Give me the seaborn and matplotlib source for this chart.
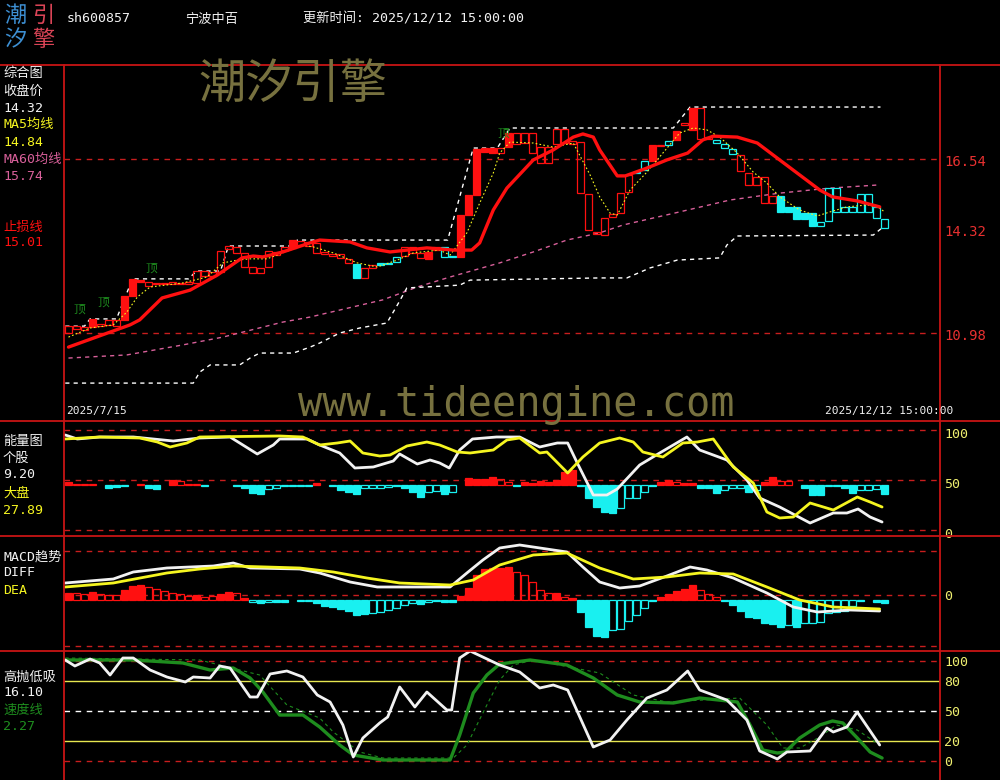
import numpy as np
import seaborn as sns
import matplotlib.pyplot as plt
import matplotlib.transforms as mtransforms
from matplotlib.lines import Line2D

# ---------------- main panel: candle bodies (price) ----------------
# kind: R = filled red, r = hollow red, C = filled cyan, c = hollow cyan
body_hi = [11.20, 11.20, 11.17, 11.43, 11.27, 11.40, 11.40, 12.16, 12.71, 12.67,
           12.61, 12.58, 12.58, 12.61, 12.58, 12.61, 12.96, 12.96, 12.93, 13.60,
           13.76, 13.73, 13.54, 13.09, 13.06, 13.60, 13.57, 13.73, 13.95, 13.92,
           13.89, 13.86, 13.57, 13.50, 13.50, 13.35, 13.19, 13.06, 13.15, 13.22,
           13.22, 13.41, 13.73, 13.73, 13.54, 13.57, 13.73, 13.73, 13.44, 14.75,
           15.39, 16.86, 16.89, 16.89, 16.89, 17.37, 17.37, 17.37, 17.37, 16.92,
           16.92, 17.50, 17.50, 17.11, 17.08, 15.42, 14.21, 14.65, 14.78, 15.45,
           16.03, 16.12, 16.48, 16.99, 16.99, 17.11, 17.43, 17.69, 18.17, 18.17,
           17.24, 17.15, 17.02, 16.86, 16.67, 16.09, 15.97, 15.97, 15.36, 15.36,
           15.01, 15.01, 14.81, 14.81, 14.53, 15.61, 15.61, 15.01, 15.01, 15.42,
           15.42, 15.01, 14.62]
body_lo = [10.98, 11.11, 11.08, 11.17, 11.20, 11.24, 11.20, 11.40, 12.16, 12.61,
           12.48, 12.55, 12.55, 12.55, 12.55, 12.55, 12.58, 12.80, 12.80, 12.93,
           13.66, 13.54, 13.09, 12.90, 12.90, 13.09, 13.47, 13.63, 13.70, 13.79,
           13.76, 13.54, 13.50, 13.44, 13.38, 13.22, 12.74, 12.74, 13.06, 13.15,
           13.19, 13.25, 13.44, 13.54, 13.38, 13.35, 13.63, 13.41, 13.41, 13.41,
           14.75, 15.39, 16.76, 16.73, 16.73, 16.92, 17.02, 17.05, 16.73, 16.41,
           16.41, 17.02, 17.05, 17.02, 15.45, 14.27, 14.14, 14.11, 14.69, 14.81,
           15.49, 16.09, 16.19, 16.48, 16.96, 16.99, 17.15, 17.63, 17.47, 17.18,
           17.18, 17.05, 16.89, 16.70, 16.16, 15.71, 15.71, 15.13, 15.13, 14.85,
           14.85, 14.62, 14.62, 14.40, 14.40, 14.56, 14.85, 14.85, 14.85, 14.85,
           14.85, 14.65, 14.32]
body_kind = list("rrrRrrrRRR" "rrrrrrrrrr" "rrrrrrrrRr" "rrrrrrCrrC"
                 "CcrrrRRccR" "RRRRrRrrrr" "rrrrrrrrrr" "rccRrcRrRr"
                 "rcccrrrrrC" "CCCCcccccc" "ccc")

stop_x = [0, 7.7, 8.9, 11.7, 15.2, 18.6, 21.7, 23.1, 24.3, 26.8, 30.2, 31.4, 35.2, 37.3,
          40.2, 44.8, 48.1, 50.4, 51.4, 53.1, 54.8, 58.1, 60.6, 63.1, 64.3, 65.6, 66.4,
          68.6, 69.6, 72.3, 74.8, 77.4, 79.3, 80.6, 83.6, 86.1, 88.9, 91.4, 93.9, 95.5,
          98.6, 101.4]
stop_y = [10.53, 11.24, 11.40, 12.10, 12.35, 12.83, 13.38, 13.44, 13.41, 13.57, 13.86,
          13.95, 13.89, 13.70, 13.57, 13.70, 13.63, 13.63, 13.86, 14.91, 15.61, 16.51,
          16.83, 17.24, 17.34, 17.24, 16.83, 16.00, 16.00, 16.25, 16.51, 16.73, 17.15,
          17.27, 17.24, 17.05, 16.51, 16.03, 15.55, 15.33, 15.20, 15.01]

ma60_x = [0, 7.3, 14.3, 19.3, 26.8, 30.2, 39.3, 43.6, 47.7, 53.9, 58.1, 62.3, 66.4,
          69.3, 76.4, 82.7, 88.9, 95.2, 101.2]
ma60_y = [10.18, 10.28, 10.60, 10.85, 11.33, 11.49, 12.04, 12.45, 12.77, 13.22, 13.57,
          13.95, 14.18, 14.43, 14.85, 15.23, 15.45, 15.61, 15.71]

ma5_x = [0, 2.7, 5.6, 7.3, 8.6, 10.2, 14.3, 17.3, 19.3, 21.1, 22.7, 24.8, 26.8, 29.3,
         30.6, 33.1, 36.1, 38.6, 41.1, 43.1, 46.4, 47.7, 49.8, 51.4, 53.1, 53.9, 55.2,
         58.1, 60.6, 63.1, 65.2, 66.4, 67.7, 68.6, 70.2, 72.3, 74.3, 76.4, 78.1, 79.8,
         81.4, 83.6, 85.6, 87.3, 88.9, 91.4, 93.6, 95.2, 97.3, 99.8, 101.2, 102]
ma5_y = [10.85, 11.14, 11.24, 11.65, 12.13, 12.45, 12.58, 12.77, 13.22, 13.31, 13.35,
         13.35, 13.54, 13.79, 13.73, 13.54, 13.22, 13.09, 13.31, 13.54, 13.63, 13.47,
         14.18, 15.13, 16.09, 16.73, 17.08, 17.05, 16.92, 17.05, 16.03, 15.33, 14.81,
         14.75, 15.55, 16.12, 16.73, 17.37, 17.53, 17.47, 17.24, 16.73, 16.12, 15.77,
         15.33, 14.91, 14.72, 14.85, 15.01, 15.07, 15.01, 14.85]

upper_x = [-0.4, 2, 2.7, 6, 8, 15, 16, 19, 20, 28, 28.6, 47.4, 50.6, 53.6, 55.2, 75.6,
           77.7, 101.5]
upper_y = [11.20, 11.20, 11.43, 11.43, 12.71, 12.71, 12.96, 12.96, 13.76, 13.76, 13.95,
           13.95, 16.89, 16.89, 17.53, 17.53, 18.20, 18.20]
lower_x = [-0.4, 15.6, 16.4, 17.7, 21.4, 22.7, 23.9, 28.1, 30.2, 31.4, 33.9, 36.4, 39.8,
           41.1, 42.3, 48.9, 50.2, 66.4, 69.8, 72.7, 76.1, 81.4, 82.3, 83.6, 100.6, 101.7]
lower_y = [9.38, 9.38, 9.73, 9.96, 9.96, 10.18, 10.34, 10.34, 10.53, 10.66, 10.98, 11.14,
           11.30, 11.87, 12.42, 12.51, 12.67, 12.74, 12.74, 13.06, 13.31, 13.38, 13.79,
           14.08, 14.11, 14.34]

top_x = [1.4, 4.3, 10.4, 54.3]
top_y = [11.73, 11.96, 13.06, 17.37]
price_ticks = [16.54, 14.32, 10.98]

# ---------------- energy panel ----------------
ew_x = [-0.4, 1.1, 3.9, 8.1, 13.1, 16.4, 20.2, 21.4, 23.6, 25.6, 26.4, 29.8, 31.4, 33.9,
        35.8, 38.1, 40.6, 41.4, 43.6, 45.2, 46.4, 47.6, 48.9, 50.5, 53.5, 56.4, 58.9,
        61.1, 62.4, 63.6, 65.6, 67.3, 68.6, 71.4, 73.9, 77.3, 78.9, 82.3, 84.8, 86.4,
        88.9, 92.7, 95.6, 97.3, 98.7, 100.2, 101.7]
ew_y = [95, 91, 93, 93, 89, 92, 93, 87, 76, 85, 91, 91, 85, 77, 62, 63, 69, 76, 66, 70,
        67, 62, 80, 91, 93, 93, 83, 87, 87, 67, 35, 35, 41, 65, 77, 93, 80, 70, 50, 32,
        23, 7, 17, 17, 21, 13, 8]
ey_x = [-0.4, 3.9, 8.9, 11.1, 12.7, 14.8, 16.4, 26.4, 29.3, 31.4, 33.6, 35.2, 36.8, 38.9,
        40.2, 42.3, 44.8, 46.4, 48.6, 50.2, 53.1, 54.8, 56.4, 58.9, 59.8, 62.4, 64.3,
        66.4, 68.9, 70.6, 71.8, 74.3, 76.8, 78.6, 80.6, 83.1, 85.6, 87.3, 88.9, 90.6,
        92.7, 95.6, 98.6, 100.2, 101.7]
ey_y = [91, 93, 92, 88, 83, 87, 93, 94, 93, 85, 87, 89, 77, 74, 75, 84, 88, 85, 78, 77,
        80, 90, 92, 77, 78, 57, 73, 87, 92, 88, 78, 73, 87, 88, 91, 63, 47, 18, 12, 13,
        27, 20, 33, 28, 23]
energy_bar = [3, 1, 1, 1, 0, -3, -2, -1, 0, 1,
              -3, -4, 0, 5, 4, 1, 1, -1, 0, 0,
              0, -1, -3, -8, -9, -4, -3, -1, -1, -1,
              -1, 2, 0, -1, -5, -7, -9, -3, -3, -3,
              -2, -1, -3, -7, -12, -7, -6, -9, -7, 0,
              7, 6, 6, 8, 6, 3, -1, 3, 2, 4,
              3, 5, 13, 15, -1, -13, -22, -27, -28, -23,
              -13, -13, -7, -1, 3, 5, 3, 2, 2, -3,
              -3, -8, -5, -3, -3, -7, -5, 3, 8, 4,
              4, 0, -3, -10, -10, -1, -1, -3, -8, -5,
              -5, -4, -9]
energy_kind = list("Rrrr-CCC-r" "CC-RrrrC--" "-CCCCccCCC" "CR-CCCCccc"
                   "cCCCCccCc-" "RRRRrrCRRR" "RRRRCCCCCc" "cccCRRrRRC"
                   "CCcccCcRRr" "r-CCCCCCCc" "ccC")

# ---------------- MACD panel ----------------
dif_x = [-0.4, 5.6, 8.1, 12.3, 18.1, 20.6, 22.7, 28.9, 31.4, 35.2, 38.6, 41.4, 47.7,
         49.8, 51.8, 53.9, 56.4, 62.3, 64.3, 66.4, 68.9, 71.4, 74.8, 77.7, 79.8, 83.1,
         87.3, 90.6, 93.6, 97.7, 101.4]
dif_y = [0.12, 0.16, 0.23, 0.27, 0.29, 0.32, 0.27, 0.26, 0.22, 0.13, 0.08, 0.08, 0.08,
         0.22, 0.35, 0.47, 0.50, 0.43, 0.28, 0.13, 0.07, 0.09, 0.19, 0.28, 0.25, 0.17,
         0.02, -0.12, -0.17, -0.15, -0.16]
dea_x = [-0.4, 5.6, 12.3, 16.4, 20.6, 28.9, 33.1, 37.3, 41.4, 47.7, 50.6, 53.9, 58.1,
         62.3, 66.4, 70.6, 74.8, 78.9, 83.1, 87.3, 91.4, 95.6, 101.4]
dea_y = [0.08, 0.12, 0.22, 0.26, 0.29, 0.27, 0.23, 0.17, 0.12, 0.10, 0.15, 0.30, 0.40,
         0.42, 0.27, 0.16, 0.18, 0.22, 0.21, 0.08, -0.05, -0.12, -0.14]
macd_bar = [0.07, 0.07, 0.06, 0.08, 0.06, 0.05, 0.05, 0.10, 0.14, 0.15,
            0.13, 0.11, 0.09, 0.07, 0.06, 0.04, 0.05, 0.03, 0.04, 0.06,
            0.08, 0.07, 0.02, -0.02, -0.03, -0.02, -0.02, -0.02, 0, -0.01,
            -0.01, -0.03, -0.06, -0.07, -0.09, -0.11, -0.15, -0.14, -0.13, -0.12,
            -0.10, -0.08, -0.05, -0.03, -0.04, -0.02, -0.01, -0.02, -0.02, 0.04,
            0.12, 0.25, 0.31, 0.32, 0.32, 0.33, 0.28, 0.25, 0.18, 0.10,
            0.07, 0.07, 0.03, 0.02, -0.12, -0.27, -0.36, -0.37, -0.30, -0.29,
            -0.21, -0.15, -0.08, -0.01, 0.03, 0.06, 0.09, 0.11, 0.15, 0.10,
            0.06, 0.03, -0.01, -0.05, -0.11, -0.17, -0.18, -0.23, -0.24, -0.27,
            -0.25, -0.27, -0.23, -0.23, -0.22, -0.13, -0.12, -0.11, -0.06, -0.01,
            0, -0.02, -0.03]
macd_kind = list("RrrRrrrRRR" "rrrrrrRrrR" "RrRcCcCC-c" "cCCCCCCCcc"
                 "ccccCcCCCR" "RRRRRRrrrr" "rRrRCCCCcc" "cccCRRRRRr"
                 "rrCCCCCCCC" "cCcccccccC" "-CC")

# ---------------- 高抛低吸 panel ----------------
hw_x = [-0.4, 0.8, 2.7, 3.9, 5.2, 6.8, 8.1, 10.2, 12.3, 14.6, 15.6, 17.7, 18.9, 20.2,
        21.4, 22.7, 23.6, 25.2, 27.3, 29.3, 31.1, 32.7, 34.3, 35.6, 36.8, 38.9, 39.9,
        41.4, 43.3, 44.8, 47.3, 47.9, 48.9, 50.2, 53.9, 56.4, 58.9, 60.6, 62.4, 65.6,
        67.7, 69.8, 72.3, 74.8, 77.4, 78.9, 82.3, 84.8, 86.4, 88.6, 89.8, 92.7, 94.8,
        95.6, 97.3, 98.6, 101.4]
hw_y = [101, 95, 102, 98, 86, 103, 103, 91, 84, 79, 84, 83, 95, 93, 79, 64, 64, 87, 90,
        84, 66, 59, 36, 4, 23, 38, 44, 74, 54, 69, 51, 51, 103, 110, 96, 89, 73, 76, 71,
        14, 21, 41, 63, 71, 90, 71, 61, 41, 10, 2, 9, 10, 33, 29, 34, 49, 16]
gs_x = [-0.4, 8.1, 14.3, 17.7, 20.6, 22.7, 24.3, 26.4, 29.3, 31.4, 33.9, 35.6, 39.3,
        47.7, 48.9, 50.6, 52.3, 53.9, 57.7, 62.3, 65.6, 68.6, 71.4, 75.6, 78.9, 83.6,
        85.2, 86.8, 88.6, 89.6, 91.4, 93.9, 95.5, 96.8, 98.6, 100.2, 101.7]
gs_y = [101, 101, 98, 91, 93, 83, 69, 46, 46, 34, 16, 6, 1, 1, 26, 68, 86, 97, 101, 96,
        83, 66, 59, 58, 63, 59, 36, 11, 8, 9, 23, 36, 40, 38, 23, 9, 3]
gd_x = [-0.4, 16.4, 23.9, 27.3, 31.4, 33.1, 36.4, 39.3, 48.1, 49.8, 52.3, 53.9, 55.6,
        58.1, 66.4, 70.6, 74.8, 83.9, 87.3, 89.3, 91.4, 93.9, 96.0, 98.6, 101.4]
gd_y = [103, 101, 86, 56, 43, 29, 9, 3, 3, 16, 56, 81, 96, 101, 88, 66, 59, 63, 36, 13,
        13, 24, 36, 31, 16]

# ---------------- style ----------------
sns.set_theme(style="dark", rc={"axes.facecolor": "black", "figure.facecolor": "black"})
plt.rcParams["font.family"] = ["DejaVu Sans Mono", "Noto Sans CJK SC"]

W, H = 1000, 780
RED = "#ff1010"
CYAN = "#19f0f0"
BORDER = "#c81414"
GRID = "#c81e1e"
WHITE = "#f2f2f2"
YELLOW = "#f5f520"
YTXT = "#f0f070"
PINK = "#d8609a"
GREEN = "#1e8c1e"
OLIVE = "#77713f"

fig = plt.figure(figsize=(10, 7.8), dpi=100)
fig.patch.set_facecolor("black")


def make_ax(top, bottom, ylim):
    ax = fig.add_axes([64 / W, 1 - bottom / H, 876 / W, (bottom - top) / H])
    ax.set_facecolor("black")
    ax.set_xlim(-0.56, 108.94)
    ax.set_ylim(*ylim)
    ax.axis("off")
    return ax


def line(ax, xs, ys, **kw):
    sns.lineplot(x=xs, y=ys, ax=ax, estimator=None, sort=False, legend=False, **kw)


def bars(ax, vals, kinds, base, width=0.8):
    xs = np.arange(len(vals))
    vals = np.asarray(vals, dtype=float)
    base = np.broadcast_to(np.asarray(base, dtype=float), vals.shape)
    for k, col, fill in [("R", RED, True), ("r", RED, False),
                         ("C", CYAN, True), ("c", CYAN, False)]:
        m = np.array([c == k for c in kinds])
        if m.any():
            ax.bar(xs[m], vals[m], bottom=base[m], width=width,
                   color=col if fill else "none", edgecolor=col, linewidth=0.9, zorder=3)


def ftext(x, y, s, color, size=9.5, **kw):
    fig.text(x / W, 1 - y / H, s, color=color, fontsize=size, va="center", **kw)


dash = (0, (4, 4))

# ---------------- main panel ----------------
ax1 = make_ax(65, 421, (8.169, 19.543))
for p in [16.54, 10.98]:
    ax1.axhline(p, color=GRID, lw=1, ls=dash)
line(ax1, ma60_x, ma60_y, color=PINK, lw=1, linestyle=(0, (3, 3)))
line(ax1, upper_x, upper_y, color="white", lw=1, linestyle=(0, (3, 3)))
line(ax1, lower_x, lower_y, color="white", lw=1, linestyle=(0, (3, 3)))

hi = np.array(body_hi)
lo = np.array(body_lo)
bars(ax1, np.maximum(hi - lo, 0.03), body_kind, lo)
line(ax1, ma5_x, ma5_y, color=YELLOW, lw=0.8, linestyle=(0, (1.5, 2)), zorder=4)
line(ax1, stop_x, stop_y, color=RED, lw=2.4, zorder=5)
for tx, ty in zip(top_x, top_y):
    ax1.text(tx, ty, "顶", color=GREEN, fontsize=8.5, ha="center", va="center")

tr1 = mtransforms.blended_transform_factory(ax1.transAxes, ax1.transData)
for p in price_ticks:
    ax1.text(1.005, p - 0.1, f"{p:.2f}", color="#e83030", fontsize=10, va="center",
             transform=tr1, clip_on=False)

# watermarks and dates
ftext(198, 85, "潮汐引擎", OLIVE, size=34)
ftext(298, 405, "www.tideengine.com", OLIVE, size=29)
ftext(66, 411, "2025/7/15", WHITE, size=8)
ftext(825, 411, "2025/12/12 15:00:00", WHITE, size=8)

# ---------------- energy panel ----------------
ax2 = make_ax(421, 536, (-6, 109))
for v in [100, 50, 0]:
    ax2.axhline(v, color=GRID, lw=1, ls=dash)
bars(ax2, energy_bar, energy_kind, 45)
line(ax2, ew_x, ew_y, color=WHITE, lw=2, zorder=5)
line(ax2, ey_x, ey_y, color=YELLOW, lw=2, zorder=5)
tr2 = mtransforms.blended_transform_factory(ax2.transAxes, ax2.transData)
for v in [100, 50, 0]:
    ax2.text(1.005, v - 5, str(v), color=YTXT, fontsize=9.5, va="center",
             transform=tr2, clip_on=False)

# ---------------- MACD panel ----------------
ax3 = make_ax(536, 651, (-0.56, 0.59))
for v in [0.44, 0, -0.51]:
    ax3.axhline(v, color=GRID, lw=1, ls=dash)
bars(ax3, macd_bar, macd_kind, -0.05)
line(ax3, dif_x, dif_y, color=WHITE, lw=2, zorder=5)
line(ax3, dea_x, dea_y, color=YELLOW, lw=2, zorder=5)
tr3 = mtransforms.blended_transform_factory(ax3.transAxes, ax3.transData)
ax3.text(1.005, -0.01, "0", color=YTXT, fontsize=9.5, va="center",
         transform=tr3, clip_on=False)

# ---------------- 高抛低吸 panel ----------------
ax4 = make_ax(651, 780, (-19, 110))
ax4.axhline(100, color=GRID, lw=1, ls=dash)
ax4.axhline(0, color=GRID, lw=1, ls=dash)
ax4.axhline(80, color="#e6e650", lw=1)
ax4.axhline(20, color="#e6e650", lw=1)
ax4.axhline(50, color="white", lw=1, ls=dash)
line(ax4, gd_x, gd_y, color=GREEN, lw=0.8, linestyle=(0, (3, 3)), zorder=4)
line(ax4, gs_x, gs_y, color=GREEN, lw=2.4, zorder=5)
line(ax4, hw_x, hw_y, color=WHITE, lw=2, zorder=6)
tr4 = mtransforms.blended_transform_factory(ax4.transAxes, ax4.transData)
for v in [100, 80, 50, 20, 0]:
    ax4.text(1.005, v - 2, str(v), color=YTXT, fontsize=9.5, va="center",
             transform=tr4, clip_on=False)

# ---------------- frame lines ----------------
for yy in [65, 421, 536, 651]:
    fig.add_artist(Line2D([0, 1], [1 - yy / H] * 2, color=BORDER, lw=1.3,
                          transform=fig.transFigure))
for xx in [64, 940]:
    fig.add_artist(Line2D([xx / W] * 2, [0, 1 - 65 / H], color=BORDER, lw=1.3,
                          transform=fig.transFigure))

# ---------------- header ----------------
ftext(4, 16, "潮", "#3d8fd2", size=16)
ftext(32, 16, "引", "#d94456", size=16)
ftext(4, 40, "汐", "#3d8fd2", size=16)
ftext(32, 40, "擎", "#d94456", size=16)
ftext(67, 19, "sh600857", WHITE)
ftext(185, 19, "宁波中百", WHITE)
ftext(303, 19, "更新时间: 2025/12/12 15:00:00", WHITE)

# ---------------- left labels ----------------
ftext(3, 73, "综合图", WHITE)
ftext(3, 91, "收盘价", WHITE)
ftext(3, 108, "14.32", WHITE)
ftext(3, 124, "MA5均线", YELLOW)
ftext(3, 142, "14.84", YELLOW)
ftext(3, 159, "MA60均线", PINK)
ftext(3, 176, "15.74", PINK)
ftext(3, 227, "止损线", RED)
ftext(3, 243, "15.01", RED)

ftext(3, 441, "能量图", WHITE)
ftext(3, 458, "个股", WHITE)
ftext(3, 475, "9.20", WHITE)
ftext(3, 493, "大盘", YELLOW)
ftext(3, 510, "27.89", YELLOW)

ftext(3, 557, "MACD趋势", WHITE)
ftext(3, 573, "DIFF", WHITE)
ftext(3, 591, "DEA", YELLOW)

ftext(3, 677, "高抛低吸", WHITE)
ftext(3, 693, "16.10", WHITE)
ftext(3, 710, "速度线", GREEN)
ftext(3, 727, "2.27", GREEN)

fig.savefig("out.png", dpi=100, facecolor="black")
